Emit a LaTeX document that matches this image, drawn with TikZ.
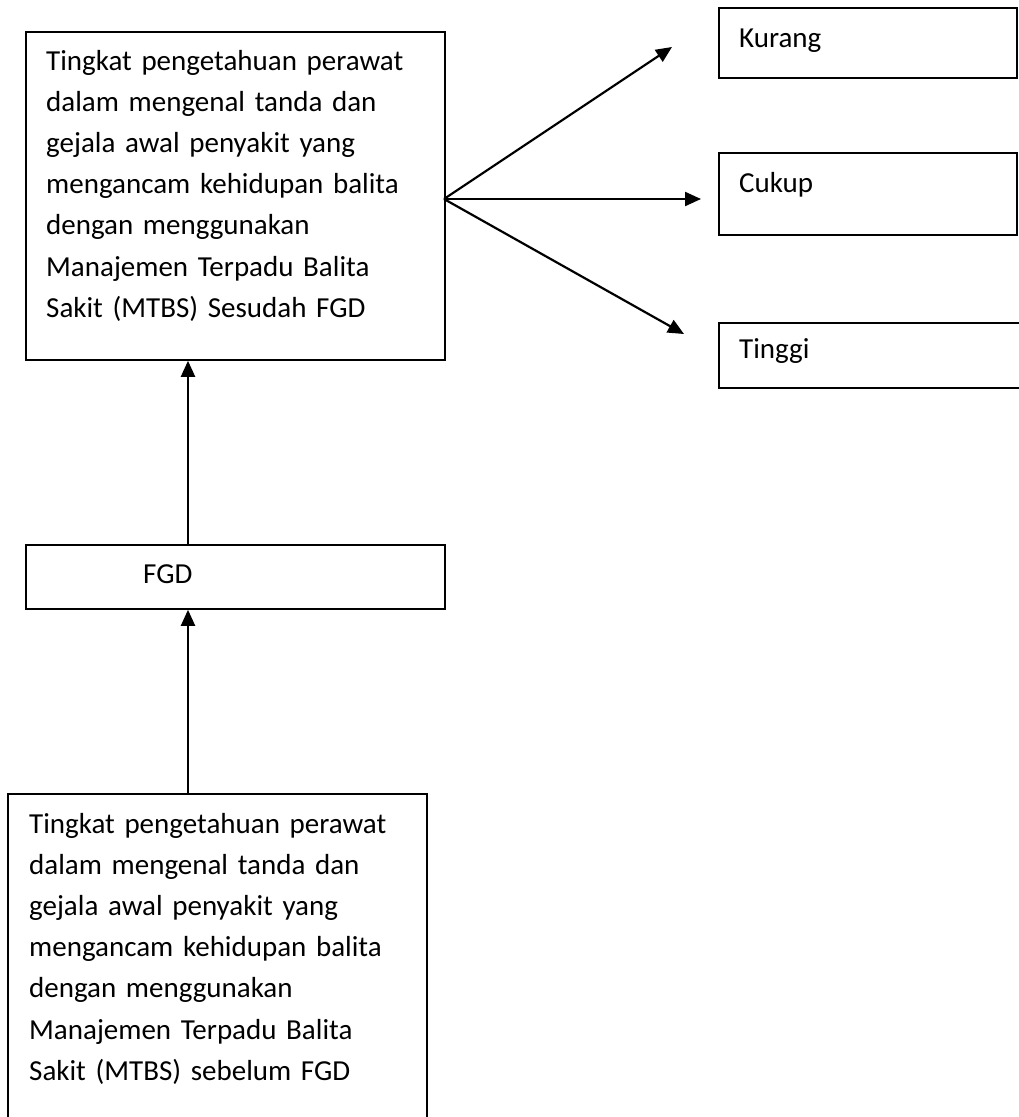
\documentclass[tikz,border=0pt]{standalone}
\usepackage{fontspec}
\setmainfont{Carlito}
\usetikzlibrary{arrows.meta}
\begin{document}
\begin{tikzpicture}[x=1pt,y=-1pt,
  box/.style={draw, line width=1.8pt, anchor=north west, inner sep=0pt, rectangle},
  txt/.style={anchor=base west, inner sep=0pt, align=left, text width=410pt,
    font=\fontsize{29pt}{41.2pt}\selectfont},
  arr/.style={line width=2.2pt, -{Triangle[length=16pt, width=14pt]}}]
\useasboundingbox (0,0) rectangle (1019,1117);
\fill[white] (0,0) rectangle (1019,1117);
\clip (0,0) rectangle (1019,1117);
% left column
\node[box, minimum width=419pt, minimum height=328pt] (top) at (25,31) {};
\node[txt] (toptext) at (46,70) {Tingkat pengetahuan perawat\\dalam mengenal tanda dan\\gejala awal penyakit yang\\mengancam kehidupan balita\\dengan menggunakan\\Manajemen Terpadu Balita\\Sakit (MTBS) Sesudah FGD};
\node[box, minimum width=419pt, minimum height=64pt] (fgd) at (25,544) {};
\node[txt] (fgdtext) at (143,583) {FGD};
\node[box, minimum width=419pt, minimum height=360pt] (bot) at (7,793) {};
\node[txt] (bottext) at (29,833) {Tingkat pengetahuan perawat\\dalam mengenal tanda dan\\gejala awal penyakit yang\\mengancam kehidupan balita\\dengan menggunakan\\Manajemen Terpadu Balita\\Sakit (MTBS) sebelum FGD};
% right column
\node[box, minimum width=298pt, minimum height=70pt] (kurang) at (718,7) {};
\node[txt] (kurangtext) at (739,47) {Kurang};
\node[box, minimum width=298pt, minimum height=82pt] (cukup) at (718,152) {};
\node[txt] (cukuptext) at (739,192) {Cukup};
\node[box, minimum width=330pt, minimum height=65pt] (tinggi) at (718,322) {};
\node[txt] (tinggitext) at (739,358) {Tinggi};
% connectors
\coordinate (vx) at (188,0);
\draw[arr] (vx |- bot.north) -- (vx |- fgd.south);
\draw[arr] (vx |- fgd.north) -- (vx |- top.south);
\coordinate (src) at (444,199);
\coordinate (tk) at (672,47);
\coordinate (tc) at (701,199);
\coordinate (tt) at (684,334);
\draw[arr] (src) -- (tk);
\draw[arr] (src) -- (tc);
\draw[arr] (src) -- (tt);
\end{tikzpicture}
\end{document}
